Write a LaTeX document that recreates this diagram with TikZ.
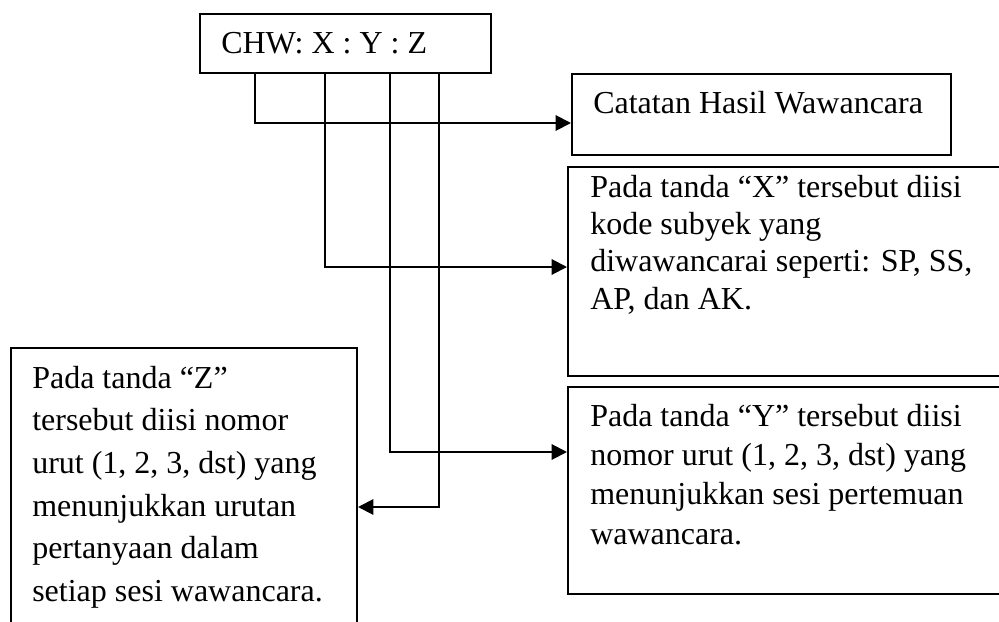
\documentclass[tikz,border=0pt]{standalone}
\usepackage{fontspec}
\setmainfont{Liberation Serif}
\usetikzlibrary{arrows.meta,fit}
\begin{document}
\begin{tikzpicture}[x=0.75pt,y=-0.75pt,
  frame/.style={draw=black, line width=1.5pt, inner sep=0pt},
  link/.style={draw=black, line width=1.5pt, -{Triangle[length=11.5pt,width=11.5pt]}},
  label/.style={inner sep=0pt, anchor=base west, font=\fontsize{24}{29}\selectfont}]
\useasboundingbox (0,0) rectangle (999,621);
\clip (0,0) rectangle (999,621);

% boxes
\node[frame, fit={(200,14) (491,73)}] (code) {};
\node[frame, fit={(572,74) (951,155)}] (cat) {};
\node[frame, fit={(568,167) (1010,376)}] (xbox) {};
\node[frame, fit={(568,387) (1010,594)}] (ybox) {};
\node[frame, fit={(11,348) (357,660)}] (zbox) {};

% texts
\node[label] (tcode) at (221,53) {CHW: X : Y : Z};
\node[label] (tcat) at (593,113) {Catatan Hasil Wawancara};
\node[label] (tx) at (590,197) {\parbox[t]{420pt}{\fontsize{24}{28.1}\selectfont
  Pada tanda “X” tersebut diisi\\
  kode subyek yang\\
  diwawancarai seperti: SP, SS,\\
  AP, dan AK.}};
\node[label] (ty) at (590,426) {\parbox[t]{420pt}{\fontsize{24}{29.5}\selectfont
  Pada tanda “Y” tersebut diisi\\
  nomor urut (1, 2, 3, dst) yang\\
  menunjukkan sesi pertemuan\\
  wawancara.}};
\node[label] (tz) at (32,388) {\parbox[t]{300pt}{\fontsize{24}{32}\selectfont
  Pada tanda “Z”\\
  tersebut diisi nomor\\
  urut (1, 2, 3, dst) yang\\
  menunjukkan urutan\\
  pertanyaan dalam\\
  setiap sesi wawancara.}};

% elbow connectors
\coordinate (c1) at (255,123);
\coordinate (c2) at (325,267);
\coordinate (c3) at (390,452);
\coordinate (c4) at (439,507);
\draw[link] (c1 |- code.south) -- (c1) -- (cat.west |- c1);
\draw[link] (c2 |- code.south) -- (c2) -- (xbox.west |- c2);
\draw[link] (c3 |- code.south) -- (c3) -- (ybox.west |- c3);
\draw[link] (c4 |- code.south) -- (c4) -- (zbox.east |- c4);
\end{tikzpicture}
\end{document}
